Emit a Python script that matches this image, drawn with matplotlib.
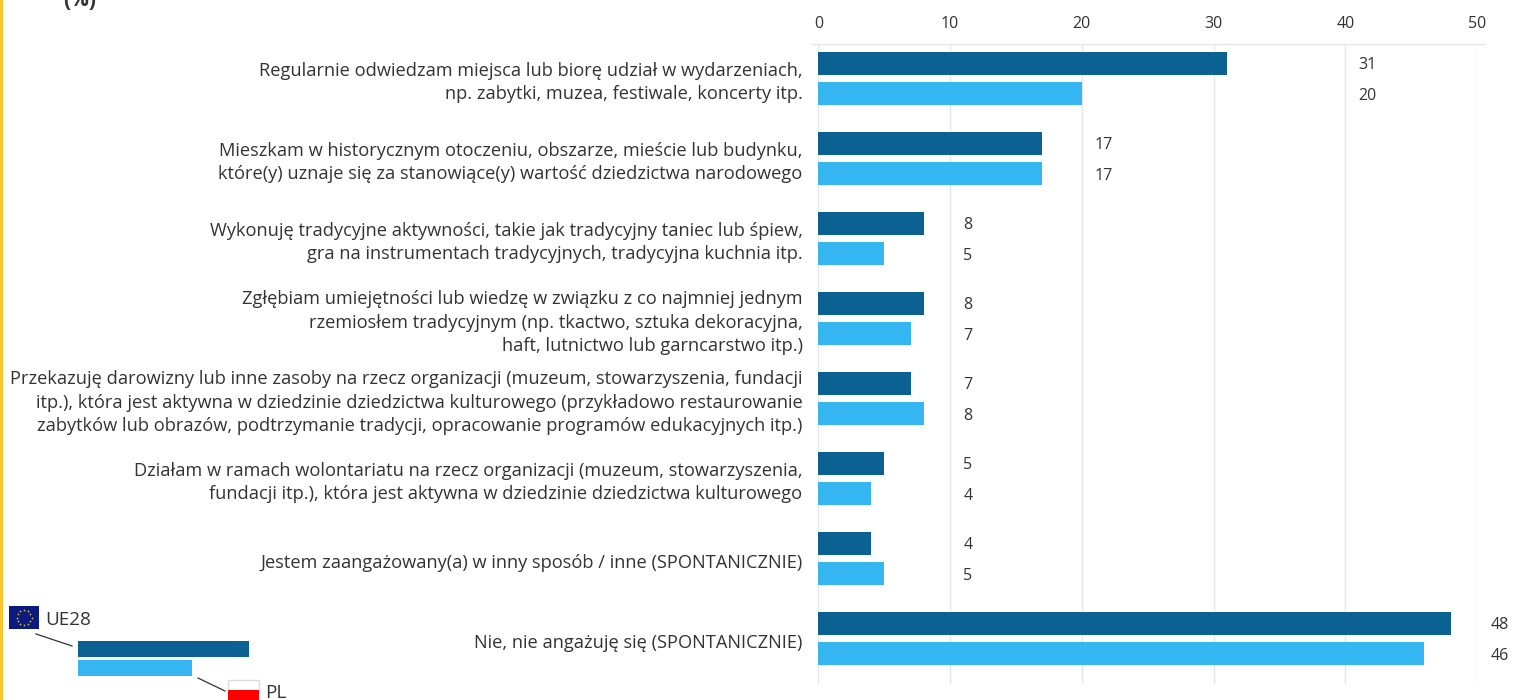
import matplotlib
matplotlib.use("Agg")
import matplotlib.pyplot as plt
import numpy as np
from matplotlib.patches import Rectangle

categorias = [
    "Regularnie odwiedzam miejsca lub biorę udział w wydarzeniach,\nnp. zabytki, muzea, festiwale, koncerty itp.",
    "Mieszkam w historycznym otoczeniu, obszarze, mieście lub budynku,\nktóre(y) uznaje się za stanowiące(y) wartość dziedzictwa narodowego",
    "Wykonuję tradycyjne aktywności, takie jak tradycyjny taniec lub śpiew,\ngra na instrumentach tradycyjnych, tradycyjna kuchnia itp.",
    "Zgłębiam umiejętności lub wiedzę w związku z co najmniej jednym\nrzemiosłem tradycyjnym (np. tkactwo, sztuka dekoracyjna,\nhaft, lutnictwo lub garncarstwo itp.)",
    "Przekazuję darowizny lub inne zasoby na rzecz organizacji (muzeum, stowarzyszenia, fundacji\nitp.), która jest aktywna w dziedzinie dziedzictwa kulturowego (przykładowo restaurowanie\nzabytków lub obrazów, podtrzymanie tradycji, opracowanie programów edukacyjnych itp.)",
    "Działam w ramach wolontariatu na rzecz organizacji (muzeum, stowarzyszenia,\nfundacji itp.), która jest aktywna w dziedzinie dziedzictwa kulturowego",
    "Jestem zaangażowany(a) w inny sposób / inne (SPONTANICZNIE)",
    "Nie, nie angażuję się (SPONTANICZNIE)",
]
ue28 = [31, 17, 8, 8, 7, 5, 4, 48]
pl = [20, 17, 5, 7, 8, 4, 5, 46]
ticks = [0, 10, 20, 30, 40, 50]

W, H = 1525, 700
AZUL = "#0b6292"
CELESTE = "#36b6f1"
TEXTO = "#333333"
FUENTE = "Open Sans"

plt.rcParams["font.family"] = FUENTE

fig = plt.figure(figsize=(W / 100, H / 100), dpi=100)

# eje principal colocado en pixeles
x0, x1, y0, y1 = 818.4, 1477, 44, 684
ax = fig.add_axes([x0 / W, 1 - y1 / H, (x1 - x0) / W, (y1 - y0) / H])
ax.set_xlim(0, 50)
ax.set_ylim((y1 - 78.5) / 80, (y0 - 78.5) / 80)

y = np.arange(len(categorias))
ax.barh(y - 0.19, ue28, height=0.29, color=AZUL, zorder=3)
ax.barh(y + 0.19, pl, height=0.29, color=CELESTE, zorder=3)

ax.xaxis.tick_top()
ax.set_xticks(ticks)
ax.set_yticks([])
ax.tick_params(axis="x", length=0, pad=9, labelsize=11.5, labelcolor=TEXTO)
ax.grid(axis="x", color="#e6e6e6", lw=1, zorder=0)
for s in ax.spines.values():
    s.set_visible(False)

# la linea superior sobresale un poco del eje
ax.plot([-0.45, 50.6], [ax.get_ylim()[1]] * 2, color="#e6e6e6", lw=1, clip_on=False, zorder=1)

# las etiquetas de cada grupo van alineadas en la misma columna
col_etiquetas = [41, 21, 11, 11, 11, 11, 11, 51]
for i in range(len(categorias)):
    ax.text(col_etiquetas[i], i - 0.165, str(ue28[i]), va="center", ha="left", fontsize=11.5, color=TEXTO)
    ax.text(col_etiquetas[i], i + 0.215, str(pl[i]), va="center", ha="left", fontsize=11.5, color=TEXTO)
    ax.text(-1.2, i + 0.05, categorias[i], va="center", ha="right", fontsize=13.15,
            color=TEXTO, linespacing=1.41, clip_on=False)

# capa en pixeles para la leyenda y los adornos
capa = fig.add_axes([0, 0, 1, 1], facecolor="none", zorder=5)
capa.set_xlim(0, W)
capa.set_ylim(H, 0)
capa.axis("off")

capa.add_patch(Rectangle((0, 0), 2.5, H, color="#fcc42c", lw=0))
capa.text(80, 0, "(%)", ha="center", va="center", fontsize=15, fontweight="bold", color=TEXTO)

capa.add_patch(Rectangle((78, 641), 171, 16, color=AZUL, lw=0))
capa.add_patch(Rectangle((78, 660), 114, 16, color=CELESTE, lw=0))
capa.plot([36, 72], [634, 646], color="#333333", lw=0.9)
capa.plot([198, 225], [678, 691], color="#333333", lw=0.9)

# bandera UE
capa.add_patch(Rectangle((9, 606), 30, 23, color="#0a1a80", lw=0))
ang = np.linspace(0, 2 * np.pi, 12, endpoint=False)
capa.scatter(24 + 7.5 * np.cos(ang), 617.5 + 7.5 * np.sin(ang), s=1.6, color="#d8c020", lw=0)
capa.text(45, 620, "UE28", ha="left", va="center", fontsize=13.6, color=TEXTO)

# bandera PL
capa.add_patch(Rectangle((228, 680), 31, 11, facecolor="white", edgecolor="#dddddd", lw=1))
capa.add_patch(Rectangle((228, 690), 31, 10, color="#ff0000", lw=0))
capa.text(265, 693, "PL", ha="left", va="center", fontsize=13.6, color=TEXTO)

fig.savefig("out.png", dpi=100)
